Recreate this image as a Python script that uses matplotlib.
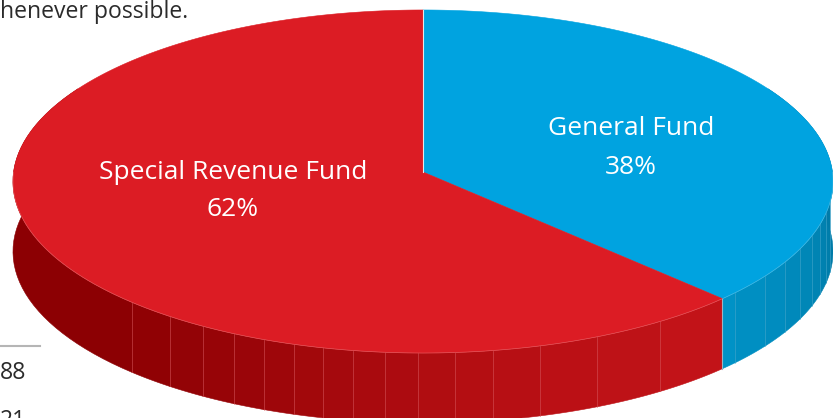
import numpy as np
import matplotlib
matplotlib.use('Agg')
import matplotlib.pyplot as plt
from matplotlib.patches import Polygon
from matplotlib.colors import to_rgb

# values, labels are rounded
funds = ['General Fund', 'Special Revenue Fund']
shares = [37.6, 62.4]
pct_labels = ['38%', '62%']
colors = ['#00A3E0', '#DC1C24']

# where the wall seams sit in the picture
red_seams = [132, 170, 203, 234, 264, 294, 323, 353, 385, 418, 455, 493, 540, 597, 660]
blue_seams = [735, 765, 785, 800, 812, 820, 826, 830]

# pie geometry in pixels, k is the perspective
cx, cy = 423, 172
a, b, k = 409.4, 171.0, 0.0554
depth = 70


def project(theta):
    # theta in degrees clockwise from the top of the pie
    t = np.radians(theta)
    u, v = np.sin(t), -np.cos(t)
    w = 1 - k * v
    return cx + a * u / w, cy + b * v / w


def mix(c1, c2, f):
    c1, c2 = np.array(to_rgb(c1)), np.array(to_rgb(c2))
    return tuple(c1 + (c2 - c1) * f)


fig = plt.figure(figsize=(8.33, 4.18), dpi=100)
ax = fig.add_axes([0, 0, 1, 1])
ax.set_xlim(0, 833)
ax.set_ylim(418, 0)
ax.axis('off')

# page text behind the pie
ax.text(0, 12, 'henever possible.', fontsize=16.6, family='Open Sans', color='#2b2b2b', va='center', ha='left')
ax.plot([0, 40], [346, 346], color='#b5b5b5', lw=1.5)
ax.text(0, 373, '88', fontsize=16.6, family='Open Sans', color='#2b2b2b', va='center', ha='left')
ax.text(0, 421, '21', fontsize=16.6, family='Open Sans', color='#2b2b2b', va='center', ha='left')

split = 360 * shares[0] / sum(shares)

# lower half lookup, x to angle
lookup = np.linspace(90, 270, 1500)
lookup_x = project(lookup)[0]


def seam_angle(x):
    return np.interp(x, lookup_x[::-1], lookup[::-1])


def draw_wall(start, end, col):
    th = np.linspace(start, end, 40)
    x, y = project(th)
    pts = np.r_[np.c_[x, y], np.c_[x[::-1], y[::-1] + depth]]
    ax.add_patch(Polygon(pts, closed=True, fc=col, ec=col, lw=0.4, zorder=2))


# blue wall, right part first
blue_edges = [split] + [seam_angle(s) for s in blue_seams] + [60]
for i in range(len(blue_edges) - 1):
    draw_wall(blue_edges[i + 1], blue_edges[i], mix('#0092C6', '#007BA8', i / (len(blue_edges) - 2)))

# red wall
red_edges = [split] + [seam_angle(s) for s in red_seams[::-1]] + [300]
for i in range(len(red_edges) - 1):
    draw_wall(red_edges[i], red_edges[i + 1], mix('#C21318', '#8C0003', i / (len(red_edges) - 2)))

# thin light seams
for th, col in [(seam_angle(s), '#D85A60') for s in red_seams] + [(seam_angle(s), '#4CAACE') for s in blue_seams]:
    x, y = project(th)
    ax.plot([x, x], [y, y + depth], color=col, lw=0.6, alpha=0.6, zorder=3)

# top faces
for start, end, col in [(0, split, colors[0]), (split, 360, colors[1])]:
    x, y = project(np.linspace(start, end, 300))
    pts = np.r_[[[cx, cy]], np.c_[x, y]]
    ax.add_patch(Polygon(pts, closed=True, fc=col, ec=col, lw=0.4, zorder=4))

# rim highlight and the seam at twelve o'clock
x, y = project(np.linspace(split, 270, 200))
ax.plot(x, y, color='#F0888C', lw=0.5, alpha=0.5, zorder=5)
x, y = project(np.linspace(90, split, 100))
ax.plot(x, y, color='#70C8E8', lw=0.5, alpha=0.6, zorder=5)
x, y = project(0)
ax.plot([cx, x], [cy, y], color='#E8E8E8', lw=0.8, zorder=5)
x, y = project(split)
ax.plot([x, x], [y, y + depth], color='#9AB4C4', lw=0.8, zorder=3)

# labels
ax.text(631, 148, funds[0] + '\n' + pct_labels[0], color='white', fontsize=19, family='Open Sans',
        ha='center', va='center', linespacing=1.75, zorder=6)
ax.text(233, 191, funds[1] + '\n' + pct_labels[1], color='white', fontsize=19, family='Open Sans',
        ha='center', va='center', linespacing=1.68, zorder=6)

fig.savefig('out.png', dpi=100)
